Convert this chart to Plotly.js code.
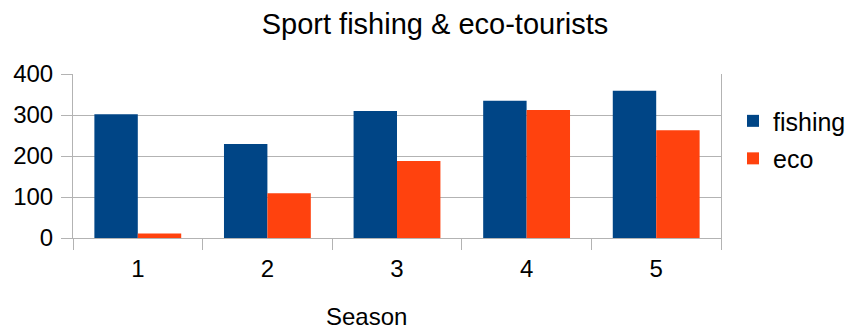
<!DOCTYPE html>
<html><head><meta charset="utf-8">
<script src="https://cdn.plot.ly/plotly-3.0.1.min.js"></script>
<style>body{margin:0;padding:0;background:#fff}#chart{width:848px;height:329px}</style>
</head><body><div id="chart"></div>
<script>
var seasons = ["1", "2", "3", "4", "5"];
var fishing = [302, 229, 310, 335, 359];
var eco = [11, 109, 188, 312, 263];
var seriesNames = ["fishing", "eco"];
var colors = ["#004586", "#ff420e"];
var FONT = "Liberation Sans, Arial, sans-serif";

var traces = [
  {type: "bar", x: seasons, y: fishing, name: seriesNames[0], legendgroup: "a", marker: {color: colors[0]}},
  {type: "bar", x: seasons, y: eco, name: seriesNames[1], legendgroup: "b", marker: {color: colors[1]}}
];
var layout = {
  width: 848, height: 329,
  margin: {l: 73, r: 127, t: 74, b: 91, autoexpand: false},
  paper_bgcolor: "#fff", plot_bgcolor: "#fff",
  font: {family: FONT, color: "#000", size: 24},
  title: {text: "Sport fishing &amp; eco-tourists", font: {family: FONT, size: 29, color: "#000"}, x: 0.513, xanchor: "center", y: 0.927, yanchor: "middle"},
  barmode: "group", bargap: 0.33, bargroupgap: 0,
  xaxis: {type: "category", tickson: "boundaries", ticks: "outside", ticklen: 11, tickcolor: "#b3b3b3",
          showline: true, linecolor: "#b3b3b3", showgrid: false, tickfont: {size: 24}, ticklabelstandoff: 9,
          zeroline: false},
  yaxis: {range: [0, 400], dtick: 100, ticks: "outside", ticklen: 11, tickcolor: "#b3b3b3",
          showline: true, mirror: true, linecolor: "#b3b3b3", gridcolor: "#b3b3b3", zeroline: false,
          tickfont: {size: 24}, ticklabelstandoff: 3},
  legend: {x: (733-73)/648, xanchor: "left", y: 0.6, yanchor: "middle", font: {size: 25},
           traceorder: "grouped", tracegroupgap: 2, itemwidth: 30},
  annotations: [{text: "Season", xref: "paper", yref: "paper", x: (366-73)/648, y: -0.48, xanchor: "center", yanchor: "middle", showarrow: false, font: {size: 24}}]
};
Plotly.newPlot("chart", traces, layout, {displayModeBar: false});
</script></body></html>
